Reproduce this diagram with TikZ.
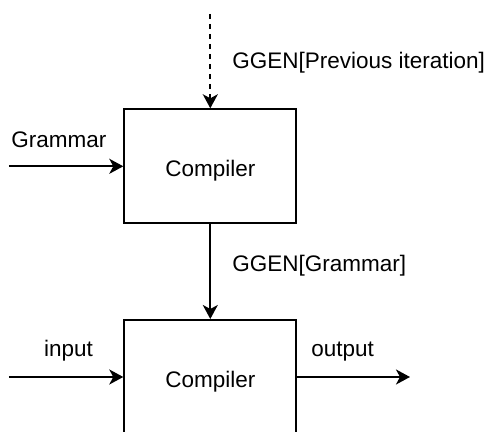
\documentclass[tikz,border=0pt]{standalone}
\usepackage{fontspec}
\setmainfont{Liberation Sans}
\usetikzlibrary{arrows.meta}
\tikzset{
	compbox/.style={draw,line width=1pt,minimum width=86pt,minimum height=57pt,inner sep=0pt,text height=10.4pt,text depth=0pt},
	lbl/.style={inner sep=0pt,anchor=base west},
	arr/.style={line width=1pt,-{Stealth[length=7pt,width=7.5pt,inset=2pt]}},
	dasharr/.style={arr,dash pattern=on 2.6pt off 2.4pt}
}
\begin{document}
\begin{tikzpicture}[x=0.5pt,y=-0.5pt,font=\fontsize{11.25}{13.5}\selectfont]
			%%%%% START %%%%%
			\def\xc{210.3}
			\def\yone{166.3}
			\def\ytwo{377}
			\def\xin{9}
			\def\xout{410}
			\def\xlbl{232}
			
			\useasboundingbox (0,0) rectangle (489,432);
			\clip (0,0) rectangle (489,432);
			
			\node[compbox] (comp1) at (\xc,\yone) {Compiler};
			\node[compbox] (comp2) at (\xc,\ytwo) {Compiler};
			
			\coordinate (prevtop) at (\xc,14);
			\coordinate (gramin) at (\xin,\yone);
			\coordinate (inpin) at (\xin,\ytwo);
			\coordinate (outend) at (\xout,\ytwo);
			
			\draw[dasharr] (prevtop) -- (comp1.north);
			\draw[arr] (gramin) -- (comp1.west);
			\draw[arr] (comp1.south) -- (comp2.north);
			\draw[arr] (inpin) -- (comp2.west);
			\draw[arr] (comp2.east) -- (outend);
			
			\node[lbl] (prevlbl) at (\xlbl,69) {GGEN[Previous iteration]};
			\node[lbl] (gramlbl) at (11,147.5) {Grammar};
			\node[lbl] (ggenlbl) at (\xlbl,271.7) {GGEN[Grammar]};
			\node[lbl] (inplbl) at (43.7,356.7) {input};
			\node[lbl] (outlbl) at (311,356.7) {output};
			%%%%% END %%%%%
\end{tikzpicture}
\end{document}
